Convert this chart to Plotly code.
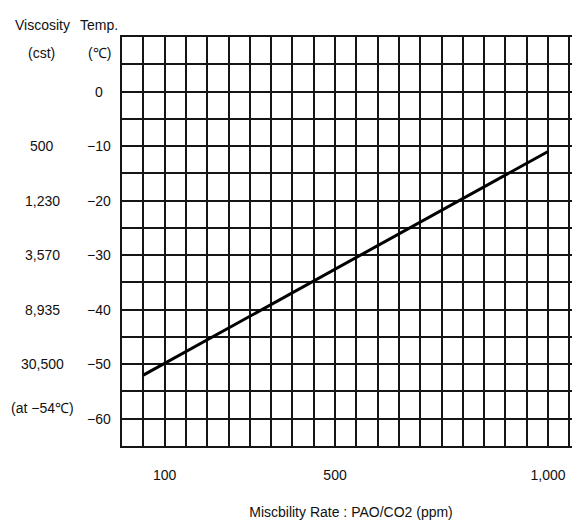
import plotly.graph_objects as go

# Data
rate_ppm = [50, 1000]
temp_c = [-52, -11]

x_tickvals = [100, 500, 1000]
x_ticktext = ["100", "500", "1,000"]

y_tickvals = [0, -10, -20, -30, -40, -50, -60]
y_ticktext = ["0", "\u221210", "\u221220", "\u221230", "\u221240", "\u221250", "\u221260"]

visc_temps = [-10, -20, -30, -40, -50, -58]
visc_labels = ["500", "1,230", "3,570", "8,935", "30,500", "(at \u221254\u2103)"]

FONT = "Liberation Sans, Arial, sans-serif"
FS = 14
TXT = "#111"
GRID = "#151515"

fig = go.Figure()
fig.add_trace(go.Scatter(x=rate_ppm, y=temp_c, mode="lines",
                         line=dict(color="black", width=3), showlegend=False))

fig.update_xaxes(range=[0, 1075], tickvals=x_tickvals, ticktext=x_ticktext,
                 showgrid=True, gridcolor=GRID, gridwidth=1.5,
                 minor=dict(tick0=0, dtick=50, showgrid=True, gridcolor=GRID, gridwidth=1.5),
                 showline=True, linecolor=GRID, linewidth=1.5, mirror=True,
                 zeroline=False, ticks="", ticklabelstandoff=15, automargin=False,
                 tickfont=dict(family=FONT, size=FS, color=TXT),
                 title=dict(text="Miscbility Rate : PAO/CO2 (ppm)", standoff=26,
                            font=dict(family=FONT, size=FS, color=TXT)))
fig.update_yaxes(range=[-65, 10], tickvals=y_tickvals,
                 showgrid=True, gridcolor=GRID, gridwidth=1.5,
                 minor=dict(tick0=0, dtick=5, showgrid=True, gridcolor=GRID, gridwidth=1.5),
                 showline=True, linecolor=GRID, linewidth=1.5, mirror=True,
                 zeroline=False, ticks="", showticklabels=False, automargin=False)

# Temperature column (centered labels, placed with the y axis scale)
for t, lab in zip(y_tickvals, y_ticktext):
    fig.add_annotation(x=0, xref="paper", y=t, yref="y", text=lab, showarrow=False,
                       xanchor="center", xshift=-23,
                       font=dict(family=FONT, size=FS, color=TXT))

# Viscosity column
for t, lab in zip(visc_temps, visc_labels):
    fig.add_annotation(x=0, xref="paper", y=t, yref="y", text=lab, showarrow=False,
                       xanchor="center", xshift=-80,
                       font=dict(family=FONT, size=FS, color=TXT))

headers = [("Viscosity", -80, 12), ("(cst)", -81, -16),
           ("Temp.", -23, 12), ("(\u2103)", -23, -16)]
for text, xs, ys in headers:
    fig.add_annotation(x=0, xref="paper", y=1, yref="paper", text=text, showarrow=False,
                       xanchor="center", yanchor="middle", xshift=xs, yshift=ys,
                       font=dict(family=FONT, size=FS, color=TXT))

# page has an 8px body margin; size the figure so the plot lands where the reference has it
fig.update_layout(width=572, height=513, margin=dict(l=114, r=0, t=29, b=75),
                  plot_bgcolor="white", paper_bgcolor="white")

fig.write_html("out.html")
